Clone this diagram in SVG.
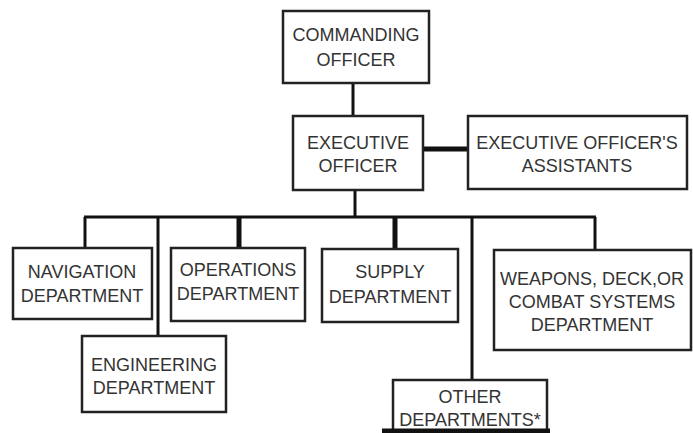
<svg xmlns="http://www.w3.org/2000/svg" width="693" height="433" viewBox="0 0 693 433">
<style>
.box{fill:#fff;stroke:#222;stroke-width:2.5}
.ln{stroke:#111;stroke-width:3;fill:none}
.thk{stroke:#111;stroke-width:5;fill:none}
text{font-family:"Liberation Sans",Arial,sans-serif;font-size:18px;fill:#333;text-anchor:middle}
</style>
<rect width="693" height="433" fill="#fff"/>
<g id="connectors">
<line class="ln" x1="353" y1="83" x2="353" y2="116"/>
<line class="thk" x1="423" y1="149" x2="468" y2="149"/>
<line class="ln" x1="355" y1="190" x2="355" y2="217"/>
<line class="ln" x1="84" y1="217" x2="596" y2="217"/>
<line class="ln" x1="85" y1="217" x2="85" y2="248"/>
<line class="ln" x1="158" y1="217" x2="158" y2="336"/>
<line class="thk" x1="239" y1="217" x2="239" y2="248"/>
<line class="thk" x1="395" y1="217" x2="395" y2="249"/>
<line class="ln" x1="472" y1="217" x2="472" y2="380"/>
<line class="ln" x1="595" y1="217" x2="595" y2="250"/>
</g>
<g id="commanding-officer">
<rect class="box" x="283" y="11" width="146" height="72"/>
<text x="356" y="41">COMMANDING</text>
<text x="356" y="66">OFFICER</text>
</g>
<g id="executive-officer">
<rect class="box" x="293" y="116" width="130" height="74"/>
<text x="358" y="149">EXECUTIVE</text>
<text x="358" y="172">OFFICER</text>
</g>
<g id="xo-assistants">
<rect class="box" x="468" y="116" width="219" height="73"/>
<text x="577" y="149">EXECUTIVE OFFICER'S</text>
<text x="577" y="172">ASSISTANTS</text>
</g>
<g id="navigation">
<rect class="box" x="13" y="248" width="139" height="71"/>
<text x="82" y="278">NAVIGATION</text>
<text x="82" y="302">DEPARTMENT</text>
</g>
<g id="operations">
<rect class="box" x="171" y="248" width="134" height="73"/>
<text x="238" y="276">OPERATIONS</text>
<text x="238" y="300">DEPARTMENT</text>
</g>
<g id="supply">
<rect class="box" x="322" y="249" width="136" height="73"/>
<text x="390" y="278">SUPPLY</text>
<text x="390" y="303">DEPARTMENT</text>
</g>
<g id="weapons">
<rect class="box" x="494" y="250" width="197" height="100"/>
<text x="592" y="285">WEAPONS, DECK,OR</text>
<text x="592" y="308">COMBAT SYSTEMS</text>
<text x="592" y="331">DEPARTMENT</text>
</g>
<g id="engineering">
<rect class="box" x="82" y="336" width="144" height="76"/>
<text x="154" y="371">ENGINEERING</text>
<text x="154" y="394">DEPARTMENT</text>
</g>
<g id="other">
<path class="box" d="M393,434 V380 H547 V434"/>
<text x="470" y="403">OTHER</text>
<text x="470" y="426">DEPARTMENTS*</text>
<line class="thk" x1="382" y1="431" x2="550" y2="431"/>
</g>
</svg>
